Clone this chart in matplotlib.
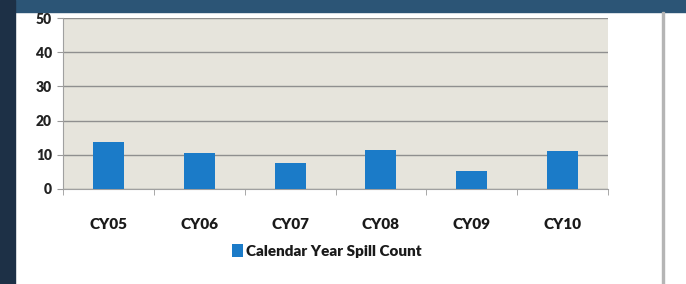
import matplotlib.pyplot as plt
from matplotlib.patches import Rectangle
import numpy as np

# Chart data
years = ['CY05', 'CY06', 'CY07', 'CY08', 'CY09', 'CY10']
spills = [13.8, 10.6, 7.6, 11.5, 5.2, 11.1]
yticks = [0, 10, 20, 30, 40, 50]

plt.rcParams['font.family'] = ['Lato', 'DejaVu Sans']

fig = plt.figure(figsize=(6.86, 2.84), dpi=100, facecolor='white')

# slide frame: dark blue bands at top and left, thin line at right
fig.add_artist(Rectangle((0, 1 - 12/284), 1, 12/284, transform=fig.transFigure,
                         color='#2c5576', zorder=0))
fig.add_artist(Rectangle((0, 0), 15/686, 1, transform=fig.transFigure,
                         color='#1d3046', zorder=0))
fig.add_artist(Rectangle((662/686, 0), 2/686, 1 - 12/284, transform=fig.transFigure,
                         color='#b5b5b5', zorder=0))

ax = fig.add_axes([63/686, 1 - 189/284, 545/686, 171/284])
ax.set_facecolor('#e6e4dc')

x = np.arange(len(years))
ax.bar(x, spills, width=0.34, color='#1b7bc8', zorder=3,
       label='Calendar Year Spill Count')

ax.set_xlim(-0.5, len(years) - 0.5)
ax.set_ylim(0, 50)
ax.set_yticks(yticks)
ax.set_yticklabels([str(v) for v in yticks], fontsize=10, fontweight='heavy', color='#222222')
ax.yaxis.grid(True, color='#8f8f8f', linewidth=1.0, zorder=1)

ax.set_xticks(x)
ax.set_xticklabels(years, fontsize=11, fontweight='heavy', color='#1a1a1a')
ax.set_xticks(np.arange(-0.5, len(years), 1), minor=True)
ax.tick_params(axis='x', which='major', length=0, pad=21)
ax.tick_params(axis='x', which='minor', length=4, color='#9a9a9a')
ax.tick_params(axis='y', length=4, color='#9a9a9a', pad=4)

for side in ['top', 'right']:
    ax.spines[side].set_visible(False)
ax.spines['left'].set_color('#a0a0a0')
ax.spines['bottom'].set_color('#a0a0a0')

leg = fig.legend(loc='center', bbox_to_anchor=(327/686, 1 - 251/284), frameon=False,
                 handlelength=0.7, handleheight=0.9, handletextpad=0.2,
                 prop={'size': 11, 'weight': 'heavy'})
for t in leg.get_texts():
    t.set_color('#1a1a1a')

fig.savefig('out.png', dpi=100, facecolor=fig.get_facecolor())
